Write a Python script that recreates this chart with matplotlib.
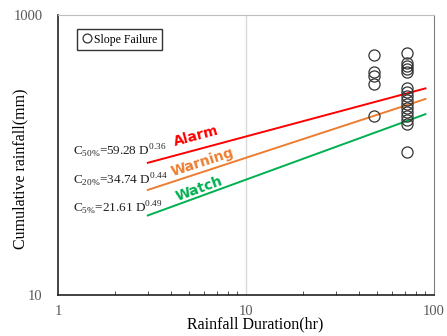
import matplotlib.pyplot as plt
import numpy as np

plt.rcParams['font.family'] = ['Liberation Serif', 'DejaVu Serif']
plt.rcParams['mathtext.fontset'] = 'custom'
plt.rcParams['mathtext.rm'] = 'Liberation Serif'

# slope failure events (duration hr, cumulative rainfall mm)
fail_dur = [48, 48, 48, 48, 48,
            72, 72, 72, 72, 72, 72, 72, 72, 72, 72, 72, 72, 72, 72, 72, 72]
fail_rain = [518, 391, 367, 321, 190,
             535, 454, 432, 411, 391, 301, 282, 264, 247, 231, 217, 203, 190, 178, 166, 105]

# threshold curves C = a * D^b
thr_names = ['Alarm', 'Warning', 'Watch']
thr_pct = ['50%', '20%', '5%']
thr_a = [59.28, 34.74, 21.61]
thr_b = [0.36, 0.44, 0.49]
thr_colors = ['#FF0000', '#ED7D31', '#00B050']
d_range = (3, 90)

fig = plt.figure(figsize=(4.47, 3.36), dpi=100)
ax = fig.add_axes([0.13, 0.122, 0.841, 0.833])

ax.plot(fail_dur, fail_rain, 'o', mfc='none', mec='#333333', ms=8, mew=0.9,
        label='Slope Failure', zorder=3)

d = np.logspace(np.log10(d_range[0]), np.log10(d_range[1]), 50)
for a, b, c in zip(thr_a, thr_b, thr_colors):
    ax.plot(d, a * d**b, color=c, lw=1.4, zorder=2)

# line names
name_pos = [(5.42, 136), (5.9, 89), (5.62, 57)]
name_rot = [15, 18, 20]
for n, c, (x, y), r in zip(thr_names, thr_colors, name_pos, name_rot):
    ax.text(x, y, n, color=c, fontsize=10, fontweight='bold', family='DejaVu Sans',
            rotation=r, ha='center', va='center')

# equations
eq_y = [106, 66, 41.6]
for p, a, b, y in zip(thr_pct, thr_a, thr_b, eq_y):
    s = r'C$_{\mathregular{%s}}$=%.2f D$^{\mathregular{%.2f}}$' % (p.replace('%', r'\%'), a, b)
    ax.text(1.2, y, s, fontsize=9.5, ha='left', va='center', color='#222222')

ax.set_xscale('log')
ax.set_yscale('log')
ax.set_xlim(1, 100)
ax.set_ylim(10, 1000)
ax.set_xticks([1, 10, 100])
ax.set_xticklabels(['1', '10', '100'])
ax.set_yticks([10, 1000])
ax.set_yticklabels(['10', '1000'])
ax.yaxis.set_minor_locator(plt.NullLocator())
ax.tick_params(axis='both', which='major', length=0, labelsize=10.5, colors='#595959', pad=11)
ax.tick_params(axis='x', which='minor', direction='in', length=3, color='#333333')
ax.tick_params(axis='x', which='major', pad=7)
ax.axvline(10, color='#D9D9D9', lw=1, zorder=1)

ax.spines['left'].set_color('#222222')
ax.spines['bottom'].set_color('#222222')
ax.spines['left'].set_linewidth(1.2)
ax.spines['bottom'].set_linewidth(1.2)
ax.spines['top'].set_color('#BFBFBF')
ax.spines['right'].set_color('#7F7F7F')

ax.set_xlabel('Rainfall Duration(hr)', fontsize=11.5)
ax.set_ylabel('Cumulative rainfall(mm)', fontsize=11.5)
ax.xaxis.set_label_coords(0.524, -0.078)
ax.yaxis.set_label_coords(-0.08, 0.45)

leg = ax.legend(loc='upper left', bbox_to_anchor=(0.035, 0.97), fontsize=8.5,
                handletextpad=0.1, handlelength=1, borderpad=0.35, fancybox=False,
                framealpha=1, markerscale=0.8)
leg.get_frame().set_edgecolor('#333333')
leg.get_frame().set_linewidth(1)

fig.savefig('out.png', dpi=100)
